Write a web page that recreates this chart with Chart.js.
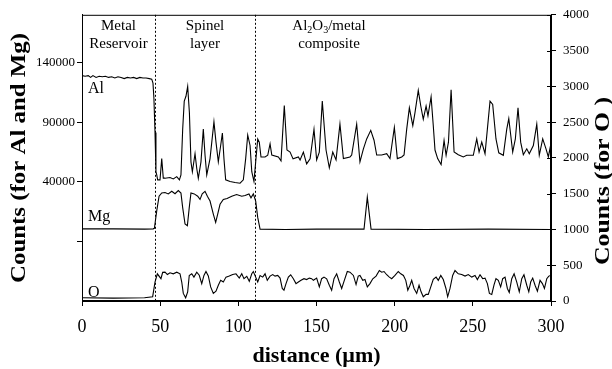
<!DOCTYPE html>
<html><head><meta charset="utf-8">
<script src="https://cdn.jsdelivr.net/npm/chart.js@4/dist/chart.umd.min.js"></script>
<style>html,body{margin:0;padding:0;background:#fff}#wrap{width:612px;height:369px;position:relative}</style>
</head><body><div id="wrap"><canvas id="c" width="612" height="369"></canvas></div>
<script>
// ---------- data ----------
const distanceTicks = [0, 50, 100, 150, 200, 250, 300];
const leftTickValues = [-10000, 40000, 90000, 140000];
const leftTickLabels = ['', '40000', '90000', '140000'];
const rightTickValues = [0, 500, 1000, 1500, 2000, 2500, 3000, 3500, 4000];
const regionBoundaries = [46.7, 110.7];
const regionNames = [['Metal', 'Reservoir'], ['Spinel', 'layer'], ['Al2O3/metal', 'composite']];
const seriesNames = ['Al', 'Mg', 'O'];

// Al counts (left axis) : [distance µm, counts]
const alProfile = [[0,129000],[2,128500],[4,129000],[5.5,127500],[7,129000],[9,127500],[11,128500],[13,128000],[15,128500],[17,127500],[19,128000],[21,127000],[23,128000],[25,127500],[27,126500],[29,127500],[31,127000],[33,127500],[35,126500],[37,127500],[39,127000],[41,127000],[43,126500],[44.6,126000],[45.4,122700],[46,110000],[46.7,81400],[47.3,48400],[47.8,45700],[48.4,41600],[49.9,41600],[51,59400],[52,43000],[53.1,43000],[56.3,43500],[58.4,42400],[60.6,44300],[62.3,41600],[63.3,45700],[64.4,84100],[65.4,107600],[66.5,111700],[67.6,120000],[68.7,97900],[69.7,56700],[70.6,48400],[72.3,63500],[73.4,51100],[74.4,42900],[76.1,56700],[77.6,84100],[78.7,62200],[79.8,45700],[81.9,59400],[84.4,90200],[85.7,73200],[87.2,56700],[88.7,70400],[89.8,80900],[90.8,59400],[91.9,41600],[94.7,40200],[97.9,39400],[101.1,38800],[103.2,41600],[104.7,59400],[106,79200],[107.5,70400],[108.6,48400],[110,40200],[111.1,56700],[112.4,75900],[113.4,73200],[114.5,60800],[117.1,60800],[118.8,62200],[120.3,71800],[121.4,62400],[125.6,60800],[127.3,57500],[129.4,104000],[131.1,66600],[133.1,64900],[135,59200],[138.4,60800],[139.5,58300],[141.6,64900],[143.7,55000],[145.9,59200],[148.4,83900],[150.1,58300],[151.8,64900],[153.7,107600],[156.1,66600],[158.2,51700],[160.4,64900],[162.5,58300],[165,88300],[167.2,59400],[171.4,60800],[172.5,62400],[175.7,88300],[177.8,56700],[180,67600],[182.1,75900],[184.7,83100],[186.8,74800],[188.5,62400],[191.7,62400],[194.9,63500],[197,59400],[199.8,85600],[201.7,59400],[204.5,60800],[206,62400],[207.7,84100],[209.4,102000],[211.6,87000],[213,97900],[215.1,116600],[216.7,103500],[218.3,92400],[220.1,103500],[221.3,95200],[223.3,111100],[224.7,86900],[225.8,66600],[227.5,59400],[229.7,54400],[231.6,74600],[232.9,62200],[234.4,73200],[236.1,117100],[238,64900],[240.7,62700],[243.9,60800],[246.1,62200],[250.3,62200],[252.5,75900],[254,64900],[255.7,73200],[257.8,63500],[259.3,84100],[261,107600],[262.7,104800],[264.8,75900],[266.6,64300],[269.5,62200],[271.7,84100],[273,93000],[275.5,64900],[277.2,75900],[278.9,102000],[280.6,73200],[282.3,62700],[284.5,67600],[286.1,63500],[288.7,70400],[290.9,88300],[292.5,62200],[294.7,75900],[296.8,67600],[298.3,60800],[299.4,68200],[300,60000]];

// Mg counts (left axis)
const mgProfile = [[0,500],[20,500],[40,300],[45.5,500],[46.3,1000],[47.8,15600],[49.3,27900],[51,30600],[53.1,31000],[55.2,29800],[57.4,32000],[59.5,30000],[61.6,32600],[63.3,30500],[64.4,18300],[65.9,4600],[67.4,3200],[68.6,18300],[69.7,30600],[71.8,29800],[74,27900],[75.5,25200],[76.9,29800],[78.7,32000],[80.2,27900],[81.9,23800],[84,12900],[85.5,5900],[86.8,12900],[88.3,21100],[90.4,25200],[92.8,26000],[95.8,27900],[98.9,29300],[102.2,27900],[104.3,28500],[106.8,29800],[108.1,26500],[109.6,29800],[111.1,23800],[112.4,10100],[113.9,300],[130,0],[150,300],[180.4,300],[182.5,27100],[184.9,300],[220,0],[260,300],[300,0]];

// O counts (right axis)
const oProfile = [[0,45],[20,40],[40,45],[45.2,60],[46.7,265],[48.2,380],[50.5,312],[51.6,400],[53.1,403],[54.6,370],[56.3,395],[58.4,380],[60.6,403],[62.7,380],[63.8,265],[64.8,106],[66.3,45],[67.6,128],[68.6,357],[70.2,380],[71.6,334],[73.4,403],[75,360],[76.6,243],[78,357],[79.3,412],[80.8,350],[82.3,197],[84,106],[85.7,137],[87.2,220],[88.7,289],[90.4,265],[92.1,334],[94.2,348],[96.4,370],[98.5,380],[100.6,320],[102.2,380],[103.6,312],[105.4,345],[107,275],[108.6,380],[109.6,412],[111.1,334],[112.4,265],[113.9,357],[115.6,334],[117.1,380],[118.5,289],[120.3,348],[122,370],[123.5,348],[125.2,357],[126.7,320],[128.1,175],[129.2,151],[130.5,243],[132,334],[133.5,367],[135.2,312],[136.9,243],[138.4,265],[140.1,289],[142,312],[143.7,300],[145.4,320],[146.9,312],[148,289],[150.1,320],[151.8,197],[153.3,312],[154.8,334],[156.5,310],[158.2,220],[159.7,151],[161.2,312],[162.9,380],[164.6,265],[166.1,175],[167.8,289],[169.7,412],[171.4,403],[173.6,357],[175.3,230],[176.7,348],[177.8,357],[179.6,289],[181,300],[182.5,197],[184.2,243],[186,310],[188.1,348],[190.2,426],[191.7,403],[193.2,412],[194.9,367],[196.6,334],[198.1,312],[200.2,357],[202.3,412],[203.9,380],[205.6,357],[207.1,289],[208.4,151],[209.8,220],[210.9,289],[212.4,175],[214.1,106],[215.6,220],[216.9,128],[218.3,59],[220.1,92],[221.5,92],[223.1,197],[224.7,302],[226.5,334],[227.9,289],[229.5,357],[231.1,300],[232.8,175],[233.9,59],[235.4,175],[237.1,357],[238.6,426],[240.7,380],[242.9,370],[245,348],[247.1,370],[249.3,334],[251.4,357],[252.9,300],[254.6,367],[256.3,312],[257.8,320],[259.3,243],[260.6,106],[262.1,92],[263.6,230],[264.8,312],[266.3,289],[267.8,197],[269.1,312],[270.6,334],[272.1,175],[273.3,120],[274.9,312],[276.4,380],[278.1,265],[279.7,128],[281.3,312],[282.7,367],[284.5,220],[285.8,128],[287,265],[288.3,320],[289.8,220],[291.3,137],[293,289],[294.5,243],[295.8,175],[297.3,312],[298.6,348],[299.8,357]];

// short vertical marks left on the right frame (right axis units)
const edgeMarks = [[300,3750],[300,3150],null,[300,2650],[300,2210],null,[300,1530],[300,950]];

// ---------- chart ----------
const FONT = '"Liberation Serif", "Times New Roman", serif';
const toXY = arr => arr.map(p => p ? {x: p[0], y: p[1]} : {x: 300, y: null});

function drawRotated(ctx, text, cx, cy, targetLen) {
  const w = ctx.measureText(text).width;
  ctx.save();
  ctx.translate(cx, cy);
  ctx.rotate(-Math.PI / 2);
  ctx.scale(targetLen / w, 1);
  ctx.fillText(text, 0, 0);
  ctx.restore();
}

const textPlugin = {
  id: 'textPlugin',
  afterDraw(chart) {
    const ctx = chart.ctx;
    const xs = chart.scales.x, yr = chart.scales.yR;
    const a = chart.chartArea;
    ctx.save();
    // frame
    ctx.strokeStyle = '#000';
    ctx.lineWidth = 1;
    ctx.setLineDash([]);
    ctx.strokeRect(a.left + 0.5, a.top + 0.5, a.right - a.left - 1, a.bottom - a.top - 1);
    // inner half of right-axis ticks (ticks cross the axis)
    ctx.beginPath();
    yr.ticks.forEach(t => {
      const py = Math.round(yr.getPixelForValue(t.value)) + 0.5;
      ctx.moveTo(a.right - 4, py); ctx.lineTo(a.right, py);
    });
    ctx.stroke();
    // region boundaries
    ctx.setLineDash([2, 2]);
    ctx.beginPath();
    regionBoundaries.forEach(d => {
      const px = Math.round(xs.getPixelForValue(d)) + 0.5;
      ctx.moveTo(px, a.top); ctx.lineTo(px, a.bottom);
    });
    ctx.stroke();
    ctx.setLineDash([]);

    ctx.fillStyle = '#000';
    ctx.textBaseline = 'middle';
    // region labels
    ctx.font = '15px ' + FONT;
    ctx.textAlign = 'center';
    const c1 = (xs.getPixelForValue(0) + xs.getPixelForValue(regionBoundaries[0])) / 2;
    const c2 = (xs.getPixelForValue(regionBoundaries[0]) + xs.getPixelForValue(regionBoundaries[1])) / 2;
    const c3 = xs.getPixelForValue(158);
    ctx.fillText(regionNames[0][0], c1, 26);
    ctx.fillText(regionNames[0][1], c1, 44);
    ctx.fillText(regionNames[1][0], c2, 26);
    ctx.fillText(regionNames[1][1], c2, 44);
    // Al2O3/metal with subscripts
    const parts = [['Al', 0], ['2', 1], ['O', 0], ['3', 1], ['/metal', 0]];
    let total = 0;
    parts.forEach(p => { ctx.font = (p[1] ? '10px ' : '15px ') + FONT; total += ctx.measureText(p[0]).width; });
    let px = c3 - total / 2;
    ctx.textAlign = 'left';
    parts.forEach(p => {
      ctx.font = (p[1] ? '10px ' : '15px ') + FONT;
      ctx.fillText(p[0], px, p[1] ? 30 : 26);
      px += ctx.measureText(p[0]).width;
    });
    ctx.font = '15px ' + FONT;
    ctx.textAlign = 'center';
    ctx.fillText(regionNames[2][1], c3, 44);

    // series labels
    ctx.textAlign = 'left';
    ctx.font = '16px ' + FONT;
    ctx.fillText(seriesNames[0], a.left + 6, 89);
    ctx.fillText(seriesNames[1], a.left + 6, 217);
    ctx.fillText(seriesNames[2], a.left + 6, 293);

    // axis titles
    ctx.font = 'bold 22px ' + FONT;
    ctx.textAlign = 'center';
    ctx.fillText('distance (\u00b5m)', (a.left + a.right) / 2, 356);
    drawRotated(ctx, 'Counts (for Al and Mg)', 19, 158, 250);
    drawRotated(ctx, 'Counts (for O )', 603, 181, 168);
    ctx.restore();
  }
};

const lineStyle = {borderColor: '#000', borderWidth: 1.1, pointRadius: 0, tension: 0, fill: false};

new Chart(document.getElementById('c'), {
  type: 'line',
  data: {
    datasets: [
      Object.assign({label: 'Al', data: toXY(alProfile), yAxisID: 'yL'}, lineStyle),
      Object.assign({label: 'Mg', data: toXY(mgProfile), yAxisID: 'yL'}, lineStyle),
      Object.assign({label: 'O', data: toXY(oProfile), yAxisID: 'yR'}, lineStyle),
      Object.assign({label: 'edge', data: toXY(edgeMarks), yAxisID: 'yR', spanGaps: false}, lineStyle, {borderWidth: 2})
    ]
  },
  options: {
    responsive: false,
    animation: false,
    events: [],
    layout: {padding: {top: 10, left: 0, right: 0, bottom: 0}},
    plugins: {legend: {display: false}, tooltip: {enabled: false}},
    scales: {
      x: {
        type: 'linear', min: 0, max: 300,
        afterBuildTicks: s => { s.ticks = distanceTicks.map(v => ({value: v})); },
        afterFit: s => { s.height = 68; },
        grid: {drawOnChartArea: false, tickLength: 5, color: '#000'},
        border: {color: '#000', width: 1},
        ticks: {color: '#000', font: {family: FONT, size: 18}, padding: 10, maxRotation: 0,
          callback: v => String(v)}
      },
      yL: {
        type: 'linear', position: 'left', min: -60000, max: 180000,
        afterBuildTicks: s => { s.ticks = leftTickValues.map(v => ({value: v})); },
        afterFit: s => { s.width = 82; },
        grid: {drawOnChartArea: false, tickLength: 5, color: '#000'},
        border: {color: '#000', width: 1},
        ticks: {color: '#000', font: {family: FONT, size: 13}, padding: 2,
          callback: (v) => leftTickLabels[leftTickValues.indexOf(v)] ?? ''}
      },
      yR: {
        type: 'linear', position: 'right', min: 0, max: 4000,
        afterBuildTicks: s => { s.ticks = rightTickValues.map(v => ({value: v})); },
        afterFit: s => { s.width = 61; },
        grid: {drawOnChartArea: false, tickLength: 5, color: '#000'},
        border: {color: '#000', width: 1},
        ticks: {color: '#000', font: {family: FONT, size: 13}, padding: 7, callback: v => String(v)}
      }
    }
  },
  plugins: [textPlugin]
});
</script></body></html>
